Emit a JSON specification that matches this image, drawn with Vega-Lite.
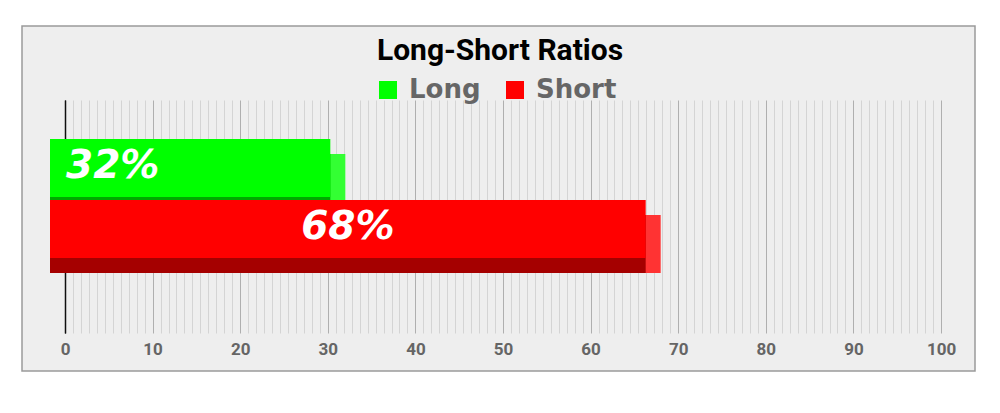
{
  "$schema": "https://vega.github.io/schema/vega-lite/v6.json",
  "width": 876,
  "height": 233,
  "autosize": {"type": "none"},
  "padding": {"left": 65, "top": 100, "right": 59, "bottom": 80},
  "background": "white",
  "config": {"view": {"stroke": null}},
  "title": {"text": "Long-Short Ratios", "font": "Roboto", "fontSize": 30, "fontWeight": "bold", "color": "#000000", "anchor": "middle", "frame": "group", "offset": -41, "dx": -3},
  "data": {"values": [{"side": "Long", "value": 32}, {"side": "Short", "value": 68}]},
  "layer": [
    {
      "transform": [{"aggregate": [{"op": "count", "as": "n"}]}],
      "mark": {"type": "rect", "fill": "black", "fillOpacity": 0.067, "stroke": "#9a9a9a", "strokeWidth": 1.5, "strokeOpacity": 1, "xOffset": -43, "x2Offset": 34, "yOffset": -74},
      "encoding": {
        "x": {"datum": 0, "type": "quantitative", "scale": {"domain": [0, 100], "nice": false},
          "axis": {"orient": "bottom", "title": null, "domain": false, "ticks": false, "grid": true, "gridWidth": 1, "tickCount": 200,
            "values": [0,0.9091,1.8182,2.7273,3.6364,4.5455,5.4545,6.3636,7.2727,8.1818,9.0909,
                       10,10.9091,11.8182,12.7273,13.6364,14.5455,15.4545,16.3636,17.2727,18.1818,19.0909,
                       20,20.9091,21.8182,22.7273,23.6364,24.5455,25.4545,26.3636,27.2727,28.1818,29.0909,
                       30,30.9091,31.8182,32.7273,33.6364,34.5455,35.4545,36.3636,37.2727,38.1818,39.0909,
                       40,40.9091,41.8182,42.7273,43.6364,44.5455,45.4545,46.3636,47.2727,48.1818,49.0909,
                       50,50.9091,51.8182,52.7273,53.6364,54.5455,55.4545,56.3636,57.2727,58.1818,59.0909,
                       60,60.9091,61.8182,62.7273,63.6364,64.5455,65.4545,66.3636,67.2727,68.1818,69.0909,
                       70,70.9091,71.8182,72.7273,73.6364,74.5455,75.4545,76.3636,77.2727,78.1818,79.0909,
                       80,80.9091,81.8182,82.7273,83.6364,84.5455,85.4545,86.3636,87.2727,88.1818,89.0909,
                       90,90.9091,91.8182,92.7273,93.6364,94.5455,95.4545,96.3636,97.2727,98.1818,99.0909,100],
            "gridColor": {"condition": [{"test": "datum.value < 0.01", "value": "#222222"}, {"test": "abs(datum.value - round(datum.value/10)*10) < 0.01", "value": "#bcbcbc"}], "value": "#e4e4e4"},
            "labelExpr": "abs(datum.value - round(datum.value/10)*10) < 0.01 ? '' + round(datum.value) : ''",
            "labelOverlap": false, "labelBound": false, "labelFlush": false, "labelPadding": 8,
            "labelFont": "Roboto", "labelFontSize": 17, "labelFontWeight": "bold", "labelColor": "#6d6d6d"}},
        "x2": {"datum": 100},
        "y": {"value": 0},
        "y2": {"value": {"expr": "height + 38"}}
      }
    },
    {
      "mark": {"type": "bar", "yOffset": 15},
      "encoding": {
        "y": {"field": "side", "type": "nominal", "scale": {"domain": ["Long", "Short"], "paddingInner": 0.049, "paddingOuter": 0.935, "align": 0.342},
          "axis": {"title": null, "labels": false, "ticks": false, "grid": false, "domain": true, "domainColor": "#111111", "domainWidth": 1.5}},
        "x": {"field": "value", "type": "quantitative"},
        "x2": {"datum": 0},
        "color": {"condition": {"test": "datum.side === 'Long'", "value": "#33ff33"}, "value": "#ff3333"}
      }
    },
    {
      "mark": {"type": "bar", "yOffset": 15, "xOffset": -15, "x2Offset": -15},
      "encoding": {
        "y": {"field": "side", "type": "nominal"},
        "x": {"field": "value", "type": "quantitative"},
        "x2": {"datum": 0},
        "color": {"condition": {"test": "datum.side === 'Long'", "value": "#00a800"}, "value": "#a50000"}
      }
    },
    {
      "mark": {"type": "bar", "xOffset": -15, "x2Offset": -15},
      "encoding": {
        "y": {"field": "side", "type": "nominal"},
        "x": {"field": "value", "type": "quantitative"},
        "x2": {"datum": 0},
        "color": {"field": "side", "type": "nominal", "scale": {"domain": ["Long", "Short"], "range": ["#00ff00", "#ff0000"]},
          "legend": {"orient": "none", "legendX": 310, "legendY": -23, "direction": "horizontal", "title": null, "symbolType": "square", "symbolSize": 324, "symbolStrokeWidth": 0, "labelFont": "DejaVu Sans", "labelFontSize": 26, "labelFontWeight": "bold", "labelColor": "#666666", "labelOffset": 8, "columnPadding": 21, "padding": 0}}
      }
    },
    {
      "transform": [{"filter": "datum.side === 'Long'"}, {"calculate": "datum.value + '%'", "as": "label"}],
      "mark": {"type": "text", "align": "left", "baseline": "middle", "dx": 1, "dy": -2, "font": "DejaVu Sans", "fontSize": 39, "fontWeight": "bold", "fontStyle": "italic", "color": "white"},
      "encoding": {
        "y": {"field": "side", "type": "nominal"},
        "x": {"datum": 0, "type": "quantitative"},
        "text": {"field": "label", "type": "nominal"}
      }
    },
    {
      "transform": [{"filter": "datum.side === 'Short'"}, {"calculate": "datum.value / 2", "as": "mid"}, {"calculate": "datum.value + '%'", "as": "label"}],
      "mark": {"type": "text", "align": "center", "baseline": "middle", "dx": -15, "dy": -2, "font": "DejaVu Sans", "fontSize": 39, "fontWeight": "bold", "fontStyle": "italic", "color": "white"},
      "encoding": {
        "y": {"field": "side", "type": "nominal"},
        "x": {"field": "mid", "type": "quantitative"},
        "text": {"field": "label", "type": "nominal"}
      }
    }
  ]
}
